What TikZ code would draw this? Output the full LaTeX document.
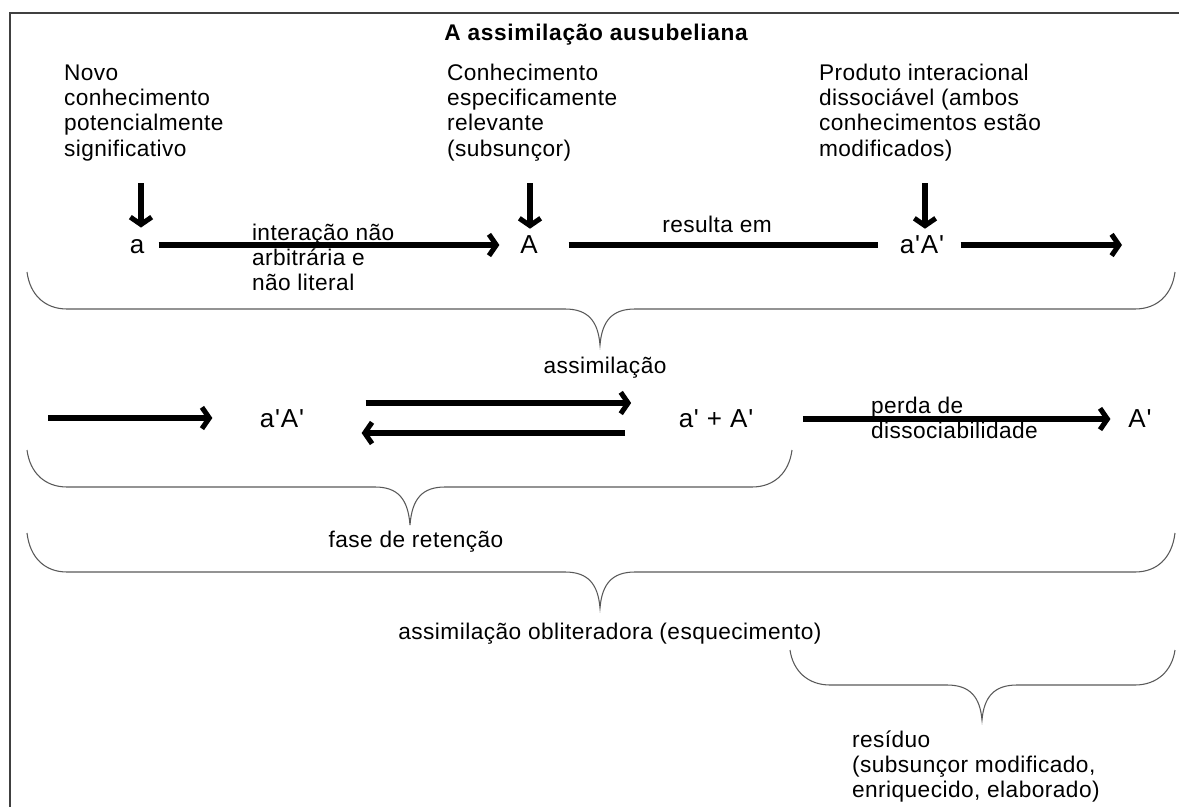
\documentclass[tikz,border=0pt]{standalone}
\usepackage{fontspec}
\newfontfamily\labelfont[LetterSpace=2]{Liberation Sans}
\newfontfamily\symfont[LetterSpace=3]{Liberation Sans}
\newfontfamily\headfont[LetterSpace=3]{Liberation Sans}
\usetikzlibrary{arrows.meta}

% left-aligned stack of lines, baseline on the first line
\newcommand{\stacked}[1]{\begin{tabular}[t]{@{}l@{}}#1\end{tabular}}

% curly brace opening upwards: left x, right x, end y, bar y, tip x, tip y
\newcommand{\curlybrace}[6]{%
  \draw[brace] (#1,#3) .. controls (#1+3,#4-14) and (#1+18,#4) .. (#1+40,#4)
    -- (#5-35,#4) .. controls (#5-12,#4) and (#5-2,#4+12) .. (#5,#6)
    .. controls (#5+2,#4+12) and (#5+12,#4) .. (#5+35,#4)
    -- (#2-40,#4) .. controls (#2-18,#4) and (#2-3,#4-14) .. (#2,#3);}

\begin{document}
\begin{tikzpicture}[x=0.75pt,y=-0.75pt,
  txt/.style={font=\labelfont\fontsize{17}{19}\selectfont, inner sep=0pt, outer sep=0pt},
  sym/.style={font=\symfont\fontsize{19.5}{22}\selectfont, inner sep=0pt, outer sep=0pt},
  headtxt/.style={font=\headfont\bfseries\fontsize{17}{19}\selectfont, inner sep=0pt},
  flow/.style={line width=4pt, -{Straight Barb[length=5.5pt,width=16pt,line width=3.8pt]}},
  plain/.style={line width=4pt},
  brace/.style={line width=0.8pt, draw=black!65},
  frame/.style={line width=1.2pt, draw=black!75}]

\useasboundingbox (0,0) rectangle (1179,807);
\draw[frame] (10,807) -- (10,13) -- (1179,13);

% heading
\node[headtxt, anchor=base] (title) at (596,40) {A assimilação ausubeliana};

% the three descriptions above the first row
\node[txt, anchor=base west] (novo) at (64,80)
  {\stacked{Novo\\conhecimento\\potencialmente\\significativo}};
\node[txt, anchor=base west] (conh) at (447,80)
  {\stacked{Conhecimento\\especificamente\\relevante\\(subsunçor)}};
\node[txt, anchor=base west] (prod) at (819,80)
  {\stacked{Produto interacional\\dissociável (ambos\\conhecimentos estão\\modificados)}};

% first row
\node[sym, anchor=base] (na) at (137,253) {a};
\node[sym, anchor=base] (nA) at (529,253) {A};
\node[sym, anchor=base] (naA) at (922,253) {a'A'};

\coordinate (dn1) at (141,183);
\coordinate (dn2) at (530,183);
\coordinate (dn3) at (925,183);
\draw[flow, shorten >=8.6pt] (dn1) -- (dn1 |- na.north);
\draw[flow, shorten >=4.8pt] (dn2) -- (dn2 |- nA.north);
\draw[flow, shorten >=4.8pt] (dn3) -- (dn3 |- naA.north);

\coordinate (r1) at (0,245);
\coordinate (r1end) at (1122,245);
\draw[flow, shorten <=10.8pt, shorten >=15.7pt] (na.east |- r1) -- (nA.west |- r1);
\draw[plain, shorten <=23.2pt, shorten >=16.2pt] (nA.east |- r1) -- (naA.west |- r1);
\draw[flow, shorten <=12.5pt] (naA.east |- r1) -- (r1end);

\node[txt, anchor=base west] (lint) at (252,240)
  {\stacked{interação não\\arbitrária e\\não literal}};
\node[txt, anchor=base] (lresulta) at (717,232) {resulta em};

\curlybrace{27}{1175}{272}{309}{600}{345}
\node[txt, anchor=base] (lassim) at (605,373) {assimilação};

% second row
\node[sym, anchor=base] (p1) at (282,427) {a'A'};
\node[sym, anchor=base] (p2) at (716,427) {a' + A'};
\node[sym, anchor=base] (p3) at (1140,427) {A'};

\coordinate (r2start) at (48,418);
\coordinate (r2a) at (0,403);
\coordinate (r2b) at (0,433);
\coordinate (r2) at (0,419);
\draw[flow, shorten >=35.7pt] (r2start) -- (r2start -| p1.west);
\draw[flow, shorten <=46.2pt, shorten >=35.7pt] (p1.east |- r2a) -- (p2.west |- r2a);
\draw[flow, shorten <=40.2pt, shorten >=43.2pt] (p2.west |- r2b) -- (p1.east |- r2b);
\draw[flow, shorten <=37.2pt, shorten >=13.5pt] (p2.east |- r2) -- (p3.west |- r2);

\node[txt, anchor=base west] (lperda) at (871,413)
  {\stacked{perda de\\dissociabilidade}};

% grouping braces
\curlybrace{27}{792}{450}{487}{410}{525}
\node[txt, anchor=base] (lfase) at (416,547) {fase de retenção};

\curlybrace{27}{1175}{533}{572}{600}{608}
\node[txt, anchor=base] (lobl) at (610,639) {assimilação obliteradora (esquecimento)};

\curlybrace{790}{1175}{650}{685}{982}{720}
\node[txt, anchor=base west] (lresid) at (852,747)
  {\stacked{resíduo\\(subsunçor modificado,\\enriquecido, elaborado)}};
\end{tikzpicture}
\end{document}
